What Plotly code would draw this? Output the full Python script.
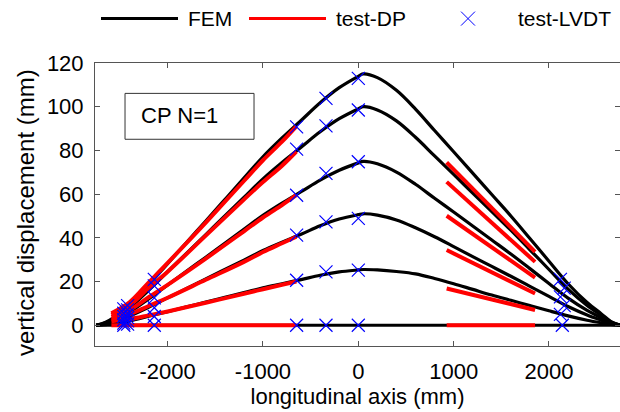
import plotly.graph_objects as go

# ---------------- data ----------------
fem_x = [-2750, -2650, -2550, -2400, -2200, -2000, -1800, -1600, -1400, -1200,
         -1000, -800, -600, -400, -200, 0, 50, 200, 400, 600, 800, 1000, 1200,
         1400, 1600, 1800, 2000, 2200, 2400, 2550, 2650, 2750]
fem_step5 = [0, 1.4, 4.0, 9.2, 18.4, 28.2, 38.0, 47.7, 57.5, 67.3, 77.1, 85.7, 93.7,
             101.8, 108.7, 113.9, 115.0, 113.3, 107.5, 98.9, 89.1, 79.4, 69.6, 59.8,
             50.0, 39.7, 29.3, 19.0, 10.4, 5.2, 1.7, 0]
fem_step4 = [0, 1.2, 3.5, 8.0, 16.0, 24.5, 33.0, 41.5, 50.0, 58.5, 67.0, 74.5, 81.5,
             88.5, 94.5, 99.0, 100.0, 98.5, 93.5, 86.0, 77.5, 69.0, 60.5, 52.0,
             43.5, 34.5, 25.5, 16.5, 9.0, 4.5, 1.5, 0]
fem_step3 = [0, 0.9, 2.6, 6.0, 12.0, 18.4, 24.8, 31.1, 37.5, 43.9, 50.3, 55.9, 61.1,
             66.4, 70.9, 74.3, 75.0, 73.9, 70.1, 64.5, 58.1, 51.8, 45.4, 39.0,
             32.6, 25.9, 19.1, 12.4, 6.8, 3.4, 1.1, 0]
fem_step2 = [0, 0.6, 1.8, 4.1, 8.2, 12.5, 16.8, 21.2, 25.5, 29.8, 34.2, 38.0, 41.6,
             45.5, 48.6, 50.6, 51.0, 50.4, 48.2, 44.6, 40.5, 36.0, 31.4, 26.9,
             22.4, 17.8, 13.2, 8.6, 4.7, 2.3, 0.8, 0]
fem_step1 = [0, 0.3, 0.9, 2.0, 4.1, 6.2, 8.4, 10.6, 12.8, 14.9, 17.1, 19.0, 20.9,
             22.9, 24.4, 25.3, 25.5, 25.3, 24.6, 23.5, 21.4, 19.0, 16.4, 13.8,
             11.4, 9.0, 6.6, 4.3, 2.3, 1.1, 0.4, 0]
fem_step0 = [0] * len(fem_x)

dp_left_x = [-2590, -2400, -2200, -2000, -1600, -1200, -1000, -800, -650]
dp_left_5 = [5.5, 10.5, 19.5, 28.5, 47.0, 66.0, 75.5, 84.0, 91.0]
dp_left_4 = [4.8, 9.0, 17.0, 24.5, 41.0, 57.5, 65.5, 73.0, 79.5]
dp_left_3 = [3.8, 7.0, 12.8, 18.5, 30.5, 43.0, 49.3, 55.0, 59.5]
dp_left_2 = [2.8, 5.0, 8.8, 12.6, 20.8, 29.0, 33.5, 37.5, 40.5]
dp_left_1 = [1.8, 2.8, 4.5, 6.3, 10.3, 14.4, 16.5, 18.5, 20.0]
dp_left_0 = [0, 0, 0, 0, 0, 0, 0, 0, 0]

dp_right_x = [927, 1200, 1500, 1854]
dp_right_5 = [74.5, 62.5, 49.3, 33.6]
dp_right_4 = [65.6, 54.8, 43.0, 29.0]
dp_right_3 = [50.1, 41.8, 32.7, 21.8]
dp_right_2 = [34.4, 28.5, 22.0, 14.5]
dp_right_1 = [16.8, 13.9, 10.7, 7.0]
dp_right_0 = [0, 0, 0, 0]

lvdt_x = ([-2460] * 6 + [-2420] * 6 + [-2140] * 6 + [-647] * 6 + [-339] * 6 +
          [0] * 6 + [2120, 2160, 2120, 2160, 2120, 2140])
lvdt_y = [7.5, 5.5, 4.0, 2.5, 1.0, 0.0,
          9.0, 7.0, 5.0, 3.5, 2.0, 0.5,
          21.0, 18.0, 12.5, 8.0, 4.0, 0.0,
          90.8, 80.6, 59.5, 41.2, 20.6, 0.0,
          103.8, 91.2, 69.5, 47.3, 24.4, 0.0,
          113.0, 98.5, 74.8, 48.9, 25.2, 0.0,
          21.0, 17.0, 13.0, 9.0, 5.0, 0.0]

x_ticks = [-2000, -1000, 0, 1000, 2000]
y_ticks = [0, 20, 40, 60, 80, 100, 120]
x_range = [-2762, 2745]
y_range = [-9.5, 120]

# ---------------- figure ----------------
FONT = "Liberation Sans, Arial, sans-serif"
W, H = 620, 412
ML, MR, MT, MB = 95, 0, 63, 66
PW, PH = W - ML - MR, H - MT - MB

fig = go.Figure()

for ys in [fem_step0, fem_step1, fem_step2, fem_step3, fem_step4, fem_step5]:
    fig.add_trace(go.Scatter(x=fem_x, y=ys, mode="lines",
                             line=dict(color="black", width=3.2, shape="spline", smoothing=1.0),
                             showlegend=False, hoverinfo="skip"))

for ys in [dp_left_0, dp_left_1, dp_left_2, dp_left_3, dp_left_4, dp_left_5]:
    fig.add_trace(go.Scatter(x=dp_left_x, y=ys, mode="lines",
                             line=dict(color="#ff0000", width=4, shape="spline"),
                             showlegend=False, hoverinfo="skip"))
for ys in [dp_right_0, dp_right_1, dp_right_2, dp_right_3, dp_right_4, dp_right_5]:
    fig.add_trace(go.Scatter(x=dp_right_x, y=ys, mode="lines",
                             line=dict(color="#ff0000", width=4),
                             showlegend=False, hoverinfo="skip"))

fig.add_trace(go.Scatter(x=lvdt_x, y=lvdt_y, mode="markers",
                         marker=dict(symbol="x-thin", size=13, color="#0000ff",
                                     line=dict(color="#0000ff", width=1.2)),
                         showlegend=False, hoverinfo="skip"))

axcol = "#555555"
fig.update_layout(
    width=W, height=H,
    margin=dict(l=ML, r=MR, t=MT, b=MB, pad=0),
    paper_bgcolor="white", plot_bgcolor="white",
    font=dict(family=FONT, size=22, color="black"),
    showlegend=False,
    xaxis=dict(range=x_range, tickvals=x_ticks, ticktext=[str(v) for v in x_ticks],
               ticks="inside", ticklen=5, tickcolor=axcol, showline=True, linecolor=axcol,
               linewidth=1, mirror="ticks", showgrid=False, zeroline=False,
               ticklabelstandoff=6, tickfont=dict(size=22),
               title=dict(text="longitudinal axis (mm)", standoff=5, font=dict(size=22))),
    yaxis=dict(range=y_range, tickvals=y_ticks, ticktext=[str(v) for v in y_ticks],
               ticks="inside", ticklen=5, tickcolor=axcol, showline=True, linecolor=axcol,
               linewidth=1, mirror=False, showgrid=False, zeroline=False,
               ticklabelstandoff=6, tickfont=dict(size=22)),
    yaxis2=dict(range=y_range, tickvals=y_ticks, overlaying="y", side="right",
                ticks="inside", ticklen=5, tickcolor=axcol, showline=False,
                showticklabels=False, showgrid=False, zeroline=False),
)

# dummy invisible trace so that yaxis2 is drawn
fig.add_trace(go.Scatter(x=[x_range[0]], y=[y_range[0]], yaxis="y2", mode="markers",
                         marker=dict(opacity=0), showlegend=False, hoverinfo="skip"))


def px_x(p):
    return (p - ML) / PW


def px_y(p):
    return (H - MB - p) / PH


# y axis title (slightly larger, centred a bit below the axis centre as in the original)
fig.add_annotation(x=px_x(25.5), y=px_y(212.5), xref="paper", yref="paper",
                   text="vertical displacement (mm)", textangle=-90, showarrow=False,
                   xanchor="center", yanchor="middle", font=dict(size=24, family=FONT))

# "CP N=1" text box
fig.add_shape(type="rect", xref="x", yref="y", x0=-2447, x1=-1094, y0=85.1, y1=106.1,
              line=dict(color="#333333", width=1), fillcolor="white", layer="below")
fig.add_annotation(x=-2300, y=96.0, xref="x", yref="y", text="CP N=1", showarrow=False,
                   xanchor="left", yanchor="middle", font=dict(size=22, family=FONT))

# legend (drawn by hand to match long line samples)
ly = 18.6
fig.add_shape(type="line", xref="paper", yref="paper", x0=px_x(101), x1=px_x(178),
              y0=px_y(ly), y1=px_y(ly), line=dict(color="black", width=3))
fig.add_shape(type="line", xref="paper", yref="paper", x0=px_x(249), x1=px_x(326),
              y0=px_y(ly), y1=px_y(ly), line=dict(color="#ff0000", width=3))
fig.add_shape(type="line", xref="paper", yref="paper", x0=px_x(461), x1=px_x(475),
              y0=px_y(ly - 7), y1=px_y(ly + 7), line=dict(color="#0000ff", width=1))
fig.add_shape(type="line", xref="paper", yref="paper", x0=px_x(461), x1=px_x(475),
              y0=px_y(ly + 7), y1=px_y(ly - 7), line=dict(color="#0000ff", width=1))
for txt, xp in [("FEM", 186), ("test-DP", 334), ("test-LVDT", 516)]:
    fig.add_annotation(x=px_x(xp), y=px_y(ly), xref="paper", yref="paper", text=txt,
                       showarrow=False, xanchor="left", yanchor="middle",
                       font=dict(size=21, family=FONT))

fig.write_html("out.html")
